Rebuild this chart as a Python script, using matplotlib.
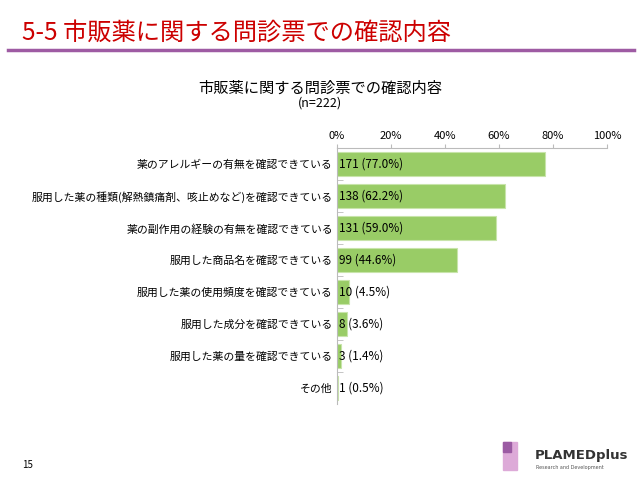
import matplotlib.pyplot as plt
from matplotlib.patches import Rectangle

plt.rcParams['font.family'] = ['Noto Sans CJK JP', 'DejaVu Sans']

categories = [
    '薬のアレルギーの有無を確認できている',
    '服用した薬の種類(解熱鎮痛剤、咳止めなど)を確認できている',
    '薬の副作用の経験の有無を確認できている',
    '服用した商品名を確認できている',
    '服用した薬の使用頻度を確認できている',
    '服用した成分を確認できている',
    '服用した薬の量を確認できている',
    'その他',
]
counts = [171, 138, 131, 99, 10, 8, 3, 1]
percents = [77.0, 62.2, 59.0, 44.6, 4.5, 3.6, 1.4, 0.5]
xticks = [0, 20, 40, 60, 80, 100]

fig = plt.figure(figsize=(6.4, 4.8), dpi=100)

# slide header
fig.text(22 / 640, 1 - 33 / 480, '5-5 市販薬に関する問診票での確認内容',
         color='#CC0000', fontsize=17.5, va='center', ha='left')
fig.add_artist(plt.Line2D([8 / 640, 634 / 640], [1 - 50 / 480, 1 - 50 / 480],
                          color='#9E5BA3', lw=2.5))

# chart title
fig.text(0.5, 1 - 88 / 480, '市販薬に関する問診票での確認内容',
         ha='center', va='center', fontsize=11)
fig.text(0.5, 1 - 103 / 480, '(n=222)', ha='center', va='center', fontsize=9)

ax = fig.add_axes([337 / 640, 1 - 404 / 480, 270 / 640, 256 / 480])
y = list(range(len(categories)))
ax.barh(y, percents, height=0.75, color='#99CC66', edgecolor='#C8E4AA', linewidth=0.8)
for i, (c, p) in enumerate(zip(counts, percents)):
    ax.text(0.8, i, f'{c} ({p:.1f}%)', va='center', ha='left', fontsize=8.5)

ax.set_xlim(0, 100)
ax.set_ylim(len(categories) - 0.5, -0.5)
ax.set_xticks(xticks)
ax.set_xticklabels([f'{t}%' for t in xticks], fontsize=8)
ax.xaxis.tick_top()
ax.tick_params(axis='x', length=3, color='#BBBBBB', pad=2)
ax.set_yticks(y)
ax.set_yticklabels(categories, fontsize=7.8)
ax.tick_params(axis='y', length=0, pad=3)
ax.set_yticks([i + 0.5 for i in y[:-1]], minor=True)
ax.tick_params(axis='y', which='minor', direction='in', length=4, color='#BBBBBB')
for s in ['right', 'bottom']:
    ax.spines[s].set_visible(False)
ax.spines['top'].set_color('#BBBBBB')
ax.spines['left'].set_color('#BBBBBB')

# page number
fig.text(22 / 640, 1 - 465 / 480, '15', fontsize=7, va='center')

# logo
fig.add_artist(Rectangle((503 / 640, 1 - 470 / 480), 14 / 640, 28 / 480,
                         color='#DDAAD8', transform=fig.transFigure))
fig.add_artist(Rectangle((503 / 640, 1 - 452 / 480), 8 / 640, 10 / 480,
                         color='#9B5BA3', transform=fig.transFigure))
fig.text(535 / 640, 1 - 455 / 480, 'PLAMEDplus', fontsize=9.5, fontweight='bold',
         color='#333333', va='center', family='DejaVu Sans')
fig.text(536 / 640, 1 - 467 / 480, 'Research and Development', fontsize=3.5,
         color='#555555', va='center', family='DejaVu Sans')

fig.savefig('out.png', dpi=100)
